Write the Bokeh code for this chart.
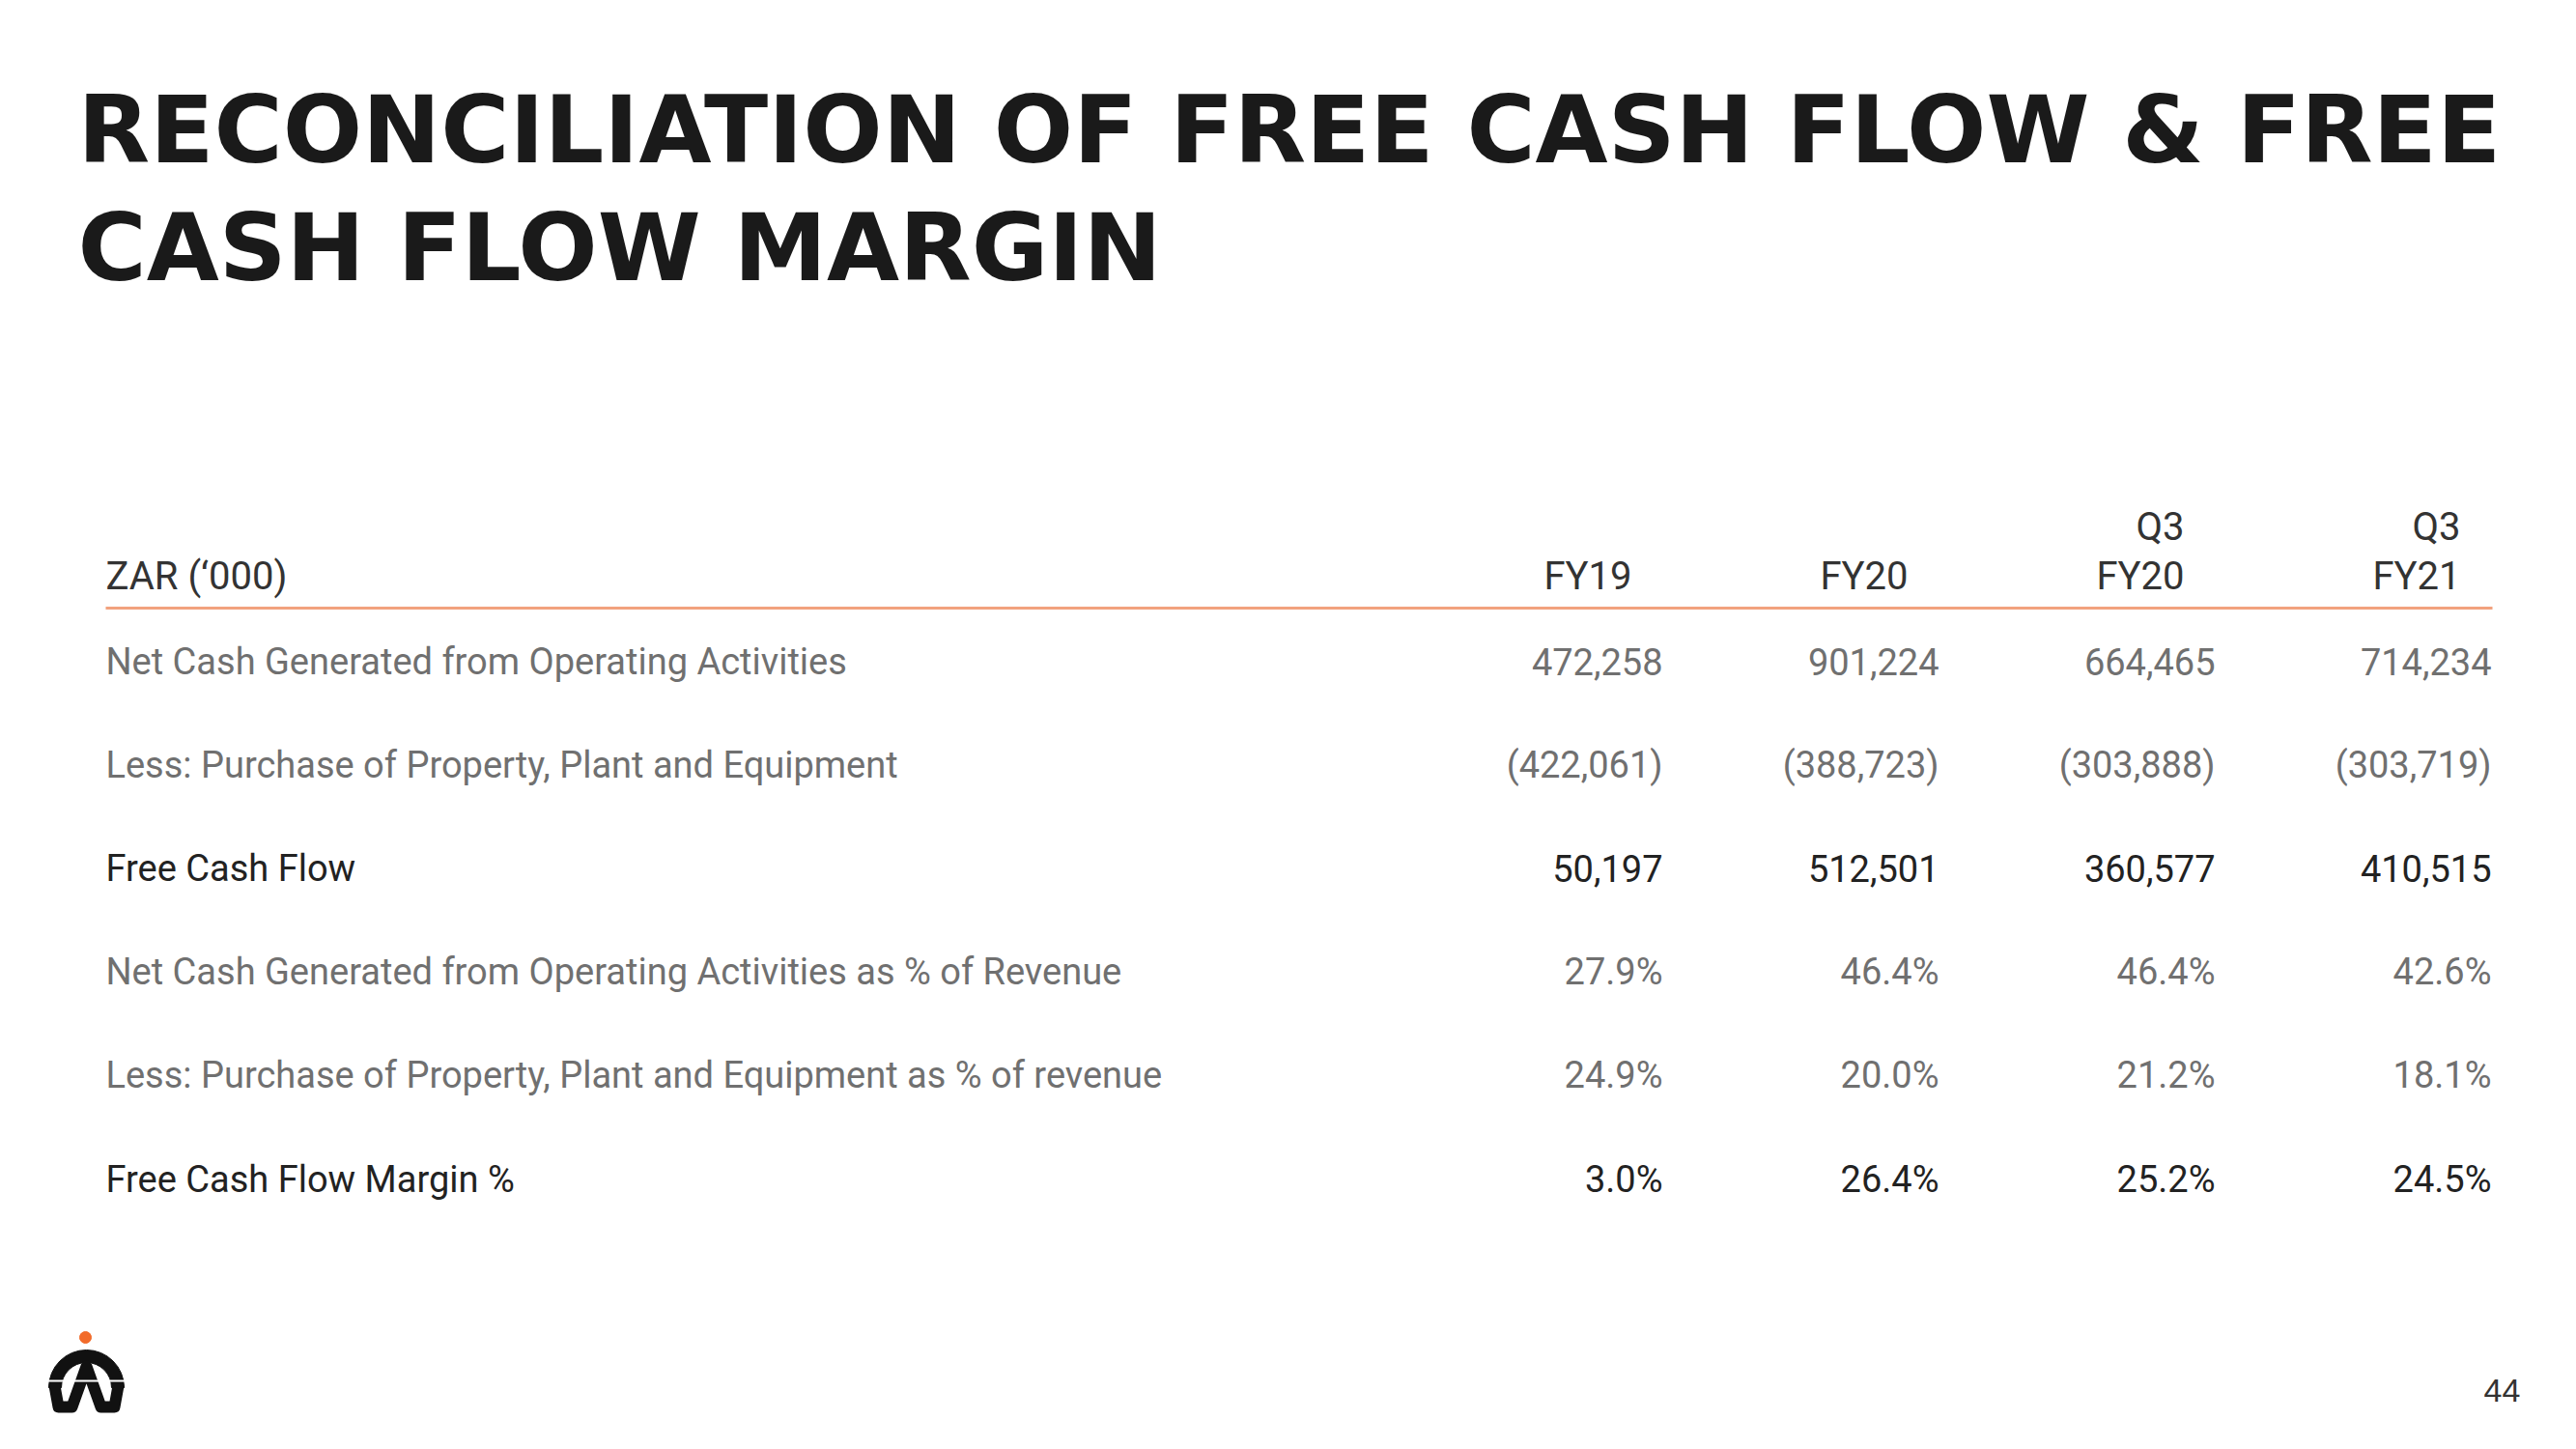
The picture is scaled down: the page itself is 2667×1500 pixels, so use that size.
from bokeh.plotting import figure
from bokeh.models import Range1d
from bokeh.core.properties import value
from bokeh.embed import file_html
from bokeh.resources import INLINE
import math

# ---------------- data ----------------
title_lines = ["RECONCILIATION OF FREE CASH FLOW & FREE", "CASH FLOW MARGIN"]
unit_label = "ZAR (‘000)"
period_top = ["", "", "Q3", "Q3"]
period_bottom = ["FY19", "FY20", "FY20", "FY21"]
row_labels = [
    "Net Cash Generated from Operating Activities",
    "Less: Purchase of Property, Plant and Equipment",
    "Free Cash Flow",
    "Net Cash Generated from Operating Activities as % of Revenue",
    "Less: Purchase of Property, Plant and Equipment as % of revenue",
    "Free Cash Flow Margin %",
]
row_bold = [False, False, True, False, False, True]
net_cash = [472258, 901224, 664465, 714234]
purchase_ppe = [-422061, -388723, -303888, -303719]
free_cash_flow = [50197, 512501, 360577, 410515]
net_cash_pct = [27.9, 46.4, 46.4, 42.6]
purchase_ppe_pct = [24.9, 20.0, 21.2, 18.1]
fcf_margin_pct = [3.0, 26.4, 25.2, 24.5]
page_number = "44"

def fmt_num(v):
    s = f"{abs(v):,}"
    return f"({s})" if v < 0 else s

def fmt_pct(v):
    return f"{v:.1f}%"

rows = [
    [fmt_num(v) for v in net_cash],
    [fmt_num(v) for v in purchase_ppe],
    [fmt_num(v) for v in free_cash_flow],
    [fmt_pct(v) for v in net_cash_pct],
    [fmt_pct(v) for v in purchase_ppe_pct],
    [fmt_pct(v) for v in fcf_margin_pct],
]

# ---------------- layout ----------------
W, H = 2651, 1484
def X(px):
    return px
def Y(py):
    return H - py

p = figure(width=W, height=H, x_range=Range1d(0, W), y_range=Range1d(0, H),
           output_backend="svg", toolbar_location=None, min_border=0)
p.axis.visible = False
p.grid.visible = False
p.outline_line_color = None
p.background_fill_color = "white"
p.border_fill_color = "white"

# title
p.text(x=[X(80)] * 2, y=[Y(134), Y(256)], text=title_lines,
       text_font=value("DejaVu Sans"), text_font_style="bold",
       text_font_size="97px", text_color="#1a1a1a",
       text_baseline="middle", text_align="left")

label_x = X(109)
col_right = [X(1721) + i * 286 for i in range(4)]
head_right = [c - 32 for c in col_right]
row_y = [Y(684 + i * 107.2) for i in range(len(row_labels))]

# header
p.text(x=[label_x], y=[Y(596)], text=[unit_label], text_font=value("Roboto"),
       text_font_size="40px", text_color="#333333", text_baseline="middle")
p.text(x=head_right, y=[Y(596)] * 4, text=period_bottom, text_font=value("Roboto"),
       text_font_size="40px", text_color="#333333", text_baseline="middle",
       text_align="right")
p.text(x=head_right, y=[Y(545)] * 4, text=period_top, text_font=value("Roboto"),
       text_font_size="40px", text_color="#333333", text_baseline="middle",
       text_align="right")
p.segment(x0=[label_x], y0=[Y(629)], x1=[X(2580)], y1=[Y(629)],
          line_color="#F2A27E", line_width=3)

# body
for i, lab in enumerate(row_labels):
    bold = row_bold[i]
    color = "#222222" if bold else "#707070"
    p.text(x=[label_x], y=[row_y[i]], text=[lab], text_font=value("Roboto"),
           text_font_size="38px", text_color=color,
           text_baseline="middle", text_align="left")
    p.text(x=col_right, y=[row_y[i]] * 4, text=rows[i], text_font=value("Roboto"),
           text_font_size="38px", text_color=color,
           text_baseline="middle", text_align="right")

# logo
p.annular_wedge(x=[X(89)], y=[Y(1436)], inner_radius=26, outer_radius=39,
                start_angle=0, end_angle=math.pi, color="#111111")
p.line(x=[X(56), X(60), X(74), X(89), X(104), X(118), X(122)],
       y=[Y(1434), Y(1456), Y(1456), Y(1414), Y(1456), Y(1456), Y(1434)],
       line_color="#111111", line_width=12, line_join="round", line_cap="round")
p.segment(x0=[X(46)], y0=[Y(1429)], x1=[X(132)], y1=[Y(1429)],
          line_color="white", line_width=2)
p.scatter(x=[X(88)], y=[Y(1384)], size=12, color="#F26B2A", marker="circle")

# page number
p.text(x=[X(2590)], y=[Y(1439)], text=[page_number], text_font=value("Liberation Sans"),
       text_font_size="34px", text_color="#333333", text_baseline="middle",
       text_align="center")

open("out.html", "w").write(file_html(p, INLINE))
